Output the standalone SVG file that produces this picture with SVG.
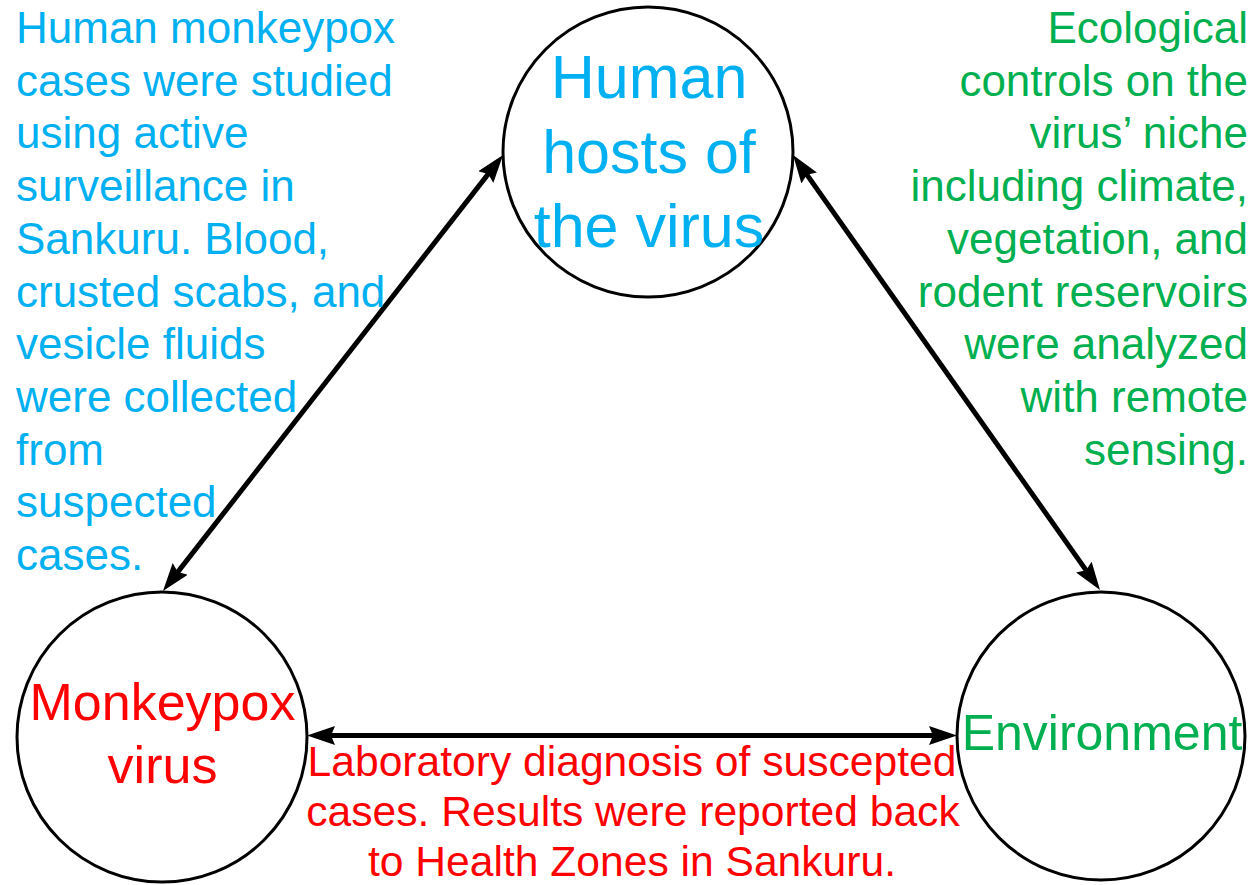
<svg xmlns="http://www.w3.org/2000/svg" width="1254" height="885" viewBox="0 0 1254 885">
<defs>
<style>
.node{fill:#ffffff;stroke:#000000;stroke-width:3}
.conn{stroke:#000000;stroke-width:5;fill:none}
text{font-family:"Liberation Sans",Arial,sans-serif}
.blue{fill:#00B0F0}
.red{fill:#FF0000}
.green{fill:#00B050}
</style>
<marker id="ah" markerUnits="userSpaceOnUse" viewBox="0 0 28 19" refX="19" refY="9.5" markerWidth="28" markerHeight="19" orient="auto-start-reverse">
<path d="M0,0 L28,9.5 L0,19 L4,9.5 z" fill="#000000"/>
</marker>
</defs>
<rect width="1254" height="885" fill="#ffffff"/>
<g id="connectors">
<line class="conn" x1="497.5" y1="162.1" x2="168.5" y2="583.9" marker-start="url(#ah)" marker-end="url(#ah)"/>
<line class="conn" x1="798.2" y1="162.4" x2="1094.8" y2="582.6" marker-start="url(#ah)" marker-end="url(#ah)"/>
<line class="conn" x1="316" y1="735.5" x2="948" y2="735.5" marker-start="url(#ah)" marker-end="url(#ah)"/>
</g>
<g id="node-human">
<circle class="node" cx="648" cy="152" r="145"/>
<text class="blue" font-size="61" text-anchor="middle"><tspan x="649" y="98">Human</tspan><tspan x="649" y="173">hosts of</tspan><tspan x="649" y="247">the virus</tspan></text>
</g>
<g id="node-virus">
<circle class="node" cx="162" cy="737" r="145"/>
<text class="red" font-size="52" text-anchor="middle"><tspan x="162.5" y="720">Monkeypox</tspan><tspan x="162.5" y="783">virus</tspan></text>
</g>
<g id="node-environment">
<circle class="node" cx="1101" cy="736" r="144"/>
<text class="green" font-size="50" text-anchor="middle"><tspan x="1102" y="750">Environment</tspan></text>
</g>
<g id="label-human-virus">
<text class="blue" font-size="44"><tspan x="16" y="43">Human monkeypox</tspan><tspan x="16" y="95.7">cases were studied</tspan><tspan x="16" y="148.4">using active</tspan><tspan x="16" y="201.1">surveillance in</tspan><tspan x="16" y="253.8">Sankuru. Blood,</tspan><tspan x="16" y="306.5">crusted scabs, and</tspan><tspan x="16" y="359.2">vesicle fluids</tspan><tspan x="16" y="411.9">were collected</tspan><tspan x="16" y="464.6">from</tspan><tspan x="16" y="517.3">suspected</tspan><tspan x="16" y="570">cases.</tspan></text>
</g>
<g id="label-human-environment">
<text class="green" font-size="44" text-anchor="end"><tspan x="1248" y="43">Ecological</tspan><tspan x="1248" y="95.7">controls on the</tspan><tspan x="1248" y="148.4">virus’ niche</tspan><tspan x="1248" y="201.1">including climate,</tspan><tspan x="1248" y="253.8">vegetation, and</tspan><tspan x="1248" y="306.5">rodent reservoirs</tspan><tspan x="1248" y="359.2">were analyzed</tspan><tspan x="1248" y="411.9">with remote</tspan><tspan x="1248" y="464.6">sensing.</tspan></text>
</g>
<g id="label-virus-environment">
<text class="red" font-size="42.6" text-anchor="middle"><tspan x="632" y="776">Laboratory diagnosis of suscepted</tspan><tspan x="633" y="826">cases. Results were reported back</tspan><tspan x="632" y="876">to Health Zones in Sankuru.</tspan></text>
</g>
</svg>
